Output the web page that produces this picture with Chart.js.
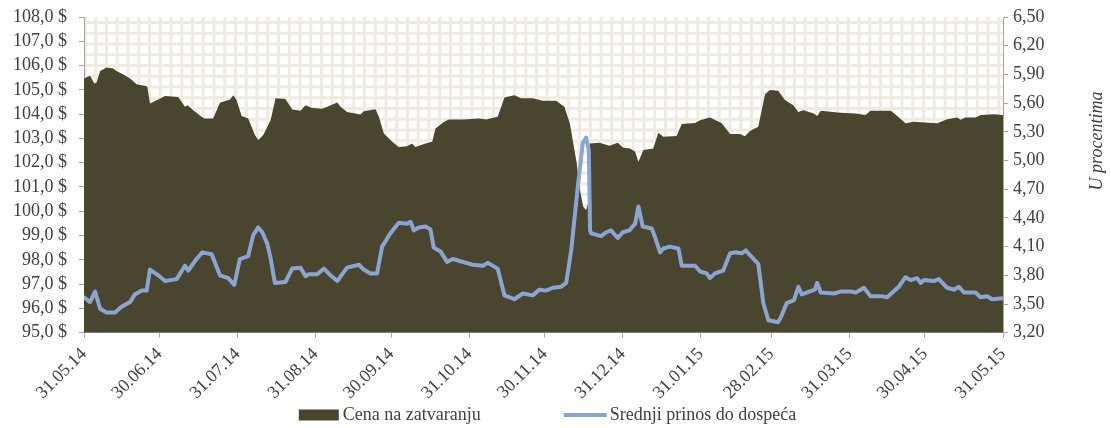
<!DOCTYPE html>
<html>
<head>
<meta charset="utf-8">
<script src="https://cdn.jsdelivr.net/npm/chart.js@4.4.1/dist/chart.umd.min.js"></script>
<style>
  body { margin: 0; background: #fff; }
  #wrap { width: 1111px; height: 428px; }
</style>
</head>
<body>
<div id="wrap"><canvas id="grafik" width="1111" height="428"></canvas></div>
<script>
// dani od 31.05.14
var cenaDani = [0, 2.4, 4.1, 5.0, 6.4, 9.0, 11.6, 12.9, 15.6, 18.3, 20.9, 24.9, 25.2, 26.2, 27.5, 32.2, 37.4, 40.1, 41.1, 43.4,
    46.7, 47.8, 51.3, 54.0, 58.0, 59.3, 60.6, 62.6, 65.2, 67.9, 69.2, 71.2, 74.1, 76.1, 80.0, 82.7, 86.0, 88.0, 90.6, 94.6,
    96.6, 100.6, 101.9, 104.5, 109.8, 111.1, 115.8, 117.1, 119.1, 122.4, 125.0, 128.3, 130.3, 131.6, 135.6, 138.3, 139.6, 142.9, 144.9, 150.5,
    157.0, 159.7, 164.3, 167.0, 170.9, 173.6, 178.2, 182.2, 187.5, 190.8, 193.0, 194.1, 195.7, 197.0, 198.3, 199.4, 200.5, 200.9, 204.7, 208.7,
    212.0, 214.0, 216.9, 218.9, 220.2, 222.2, 226.1, 228.1, 230.1, 235.4, 237.4, 242.7, 244.7, 248.6, 253.3, 256.6, 260.5, 262.5, 264.5, 267.8,
    270.5, 272.4, 275.7, 278.4, 281.7, 283.7, 285.7, 289.9, 291.2, 292.6, 300.5, 306.5, 310.4, 312.4, 320.4, 323.0, 326.3, 329.6, 334.1, 338.9,
    342.8, 346.8, 348.1, 350.1, 354.1, 356.1, 361.4, 365];
var cena = [105.47, 105.58, 105.26, 105.30, 105.78, 105.92, 105.88, 105.78, 105.63, 105.47, 105.23, 105.15, 105.10, 104.44, 104.50, 104.75, 104.71, 104.30, 104.37, 104.16,
    103.89, 103.82, 103.82, 104.47, 104.60, 104.78, 104.58, 103.92, 103.82, 103.14, 102.93, 103.14, 103.75, 104.65, 104.62, 104.19, 104.14, 104.37, 104.25, 104.22,
    104.30, 104.48, 104.30, 104.09, 103.99, 104.12, 104.20, 103.90, 103.20, 102.86, 102.65, 102.68, 102.79, 102.65, 102.79, 102.86, 103.41, 103.68, 103.78, 103.78,
    103.82, 103.78, 103.89, 104.69, 104.78, 104.65, 104.65, 104.55, 104.55, 104.30, 103.60, 102.93, 101.97, 100.87, 100.19, 100.05, 100.40, 102.79, 102.82, 102.70,
    102.82, 102.63, 102.59, 102.45, 102.04, 102.52, 102.59, 103.23, 103.07, 103.10, 103.59, 103.64, 103.75, 103.86, 103.62, 103.18, 103.18, 103.09, 103.31, 103.48,
    104.82, 104.99, 104.96, 104.58, 104.37, 104.09, 104.16, 104.03, 103.92, 104.14, 104.06, 104.03, 103.96, 104.14, 104.14, 103.92, 103.62, 103.69, 103.66, 103.62,
    103.79, 103.86, 103.77, 103.86, 103.86, 103.96, 104.00, 103.96];

var prinosDani = [0, 2.4, 4.4, 6.4, 9.0, 12.3, 14.9, 18.3, 20.2, 22.9, 24.9, 26.2, 29.5, 32.2, 36.8, 40.1, 41.4, 44.7, 47.0, 50.7,
    54.0, 57.3, 59.7, 61.9, 65.2, 67.2, 69.2, 70.8, 72.8, 74.1, 75.8, 80.0, 82.7, 86.0, 88.0, 89.3, 92.6, 95.3, 97.9, 100.6,
    102.5, 104.5, 109.2, 111.1, 113.8, 116.4, 118.4, 121.7, 125.0, 128.3, 129.7, 131.0, 133.0, 135.6, 137.6, 138.9, 141.6, 144.2, 146.5, 151.8,
    154.4, 158.4, 160.4, 164.3, 167.0, 170.9, 174.3, 178.2, 180.9, 183.5, 186.2, 189.5, 191.5, 193.5, 196.1, 198.1, 199.4, 200.5, 201.0, 201.4,
    205.4, 207.4, 209.3, 212.0, 214.0, 216.6, 218.9, 220.2, 221.9, 225.5, 226.8, 228.8, 230.1, 232.7, 236.1, 237.4, 242.7, 244.7, 247.3, 248.6,
    250.6, 253.9, 256.6, 258.5, 261.2, 262.9, 264.5, 267.8, 269.8, 271.8, 275.7, 277.1, 279.1, 282.0, 283.7, 285.1, 287.0, 290.3, 291.2, 292.6,
    297.9, 300.5, 304.5, 306.5, 309.8, 312.4, 317.0, 319.0, 323.6, 326.3, 328.3, 330.9, 332.3, 333.6, 337.5, 339.5, 342.8, 345.5, 347.5, 349.5,
    354.1, 356.1, 358.7, 360.7, 365];
var prinos = [3.57, 3.52, 3.63, 3.45, 3.41, 3.41, 3.47, 3.52, 3.60, 3.64, 3.64, 3.86, 3.80, 3.74, 3.76, 3.90, 3.85, 3.97, 4.04, 4.02,
    3.80, 3.77, 3.70, 3.97, 4.00, 4.22, 4.30, 4.25, 4.13, 3.98, 3.72, 3.73, 3.87, 3.88, 3.79, 3.81, 3.81, 3.87, 3.80, 3.74,
    3.81, 3.88, 3.91, 3.86, 3.82, 3.82, 4.10, 4.24, 4.35, 4.34, 4.36, 4.27, 4.30, 4.31, 4.28, 4.09, 4.05, 3.94, 3.97, 3.93,
    3.91, 3.90, 3.93, 3.87, 3.59, 3.55, 3.61, 3.59, 3.65, 3.64, 3.67, 3.68, 3.72, 4.06, 4.72, 5.18, 5.24, 5.11, 4.27, 4.24,
    4.21, 4.25, 4.27, 4.19, 4.25, 4.27, 4.34, 4.52, 4.31, 4.29, 4.20, 4.04, 4.08, 4.10, 4.08, 3.90, 3.90, 3.84, 3.82, 3.77,
    3.82, 3.85, 4.03, 4.04, 4.03, 4.06, 4.01, 3.92, 3.51, 3.33, 3.31, 3.38, 3.51, 3.54, 3.68, 3.60, 3.62, 3.65, 3.72, 3.62,
    3.61, 3.63, 3.63, 3.62, 3.67, 3.58, 3.58, 3.57, 3.68, 3.78, 3.75, 3.77, 3.72, 3.75, 3.74, 3.76, 3.67, 3.65, 3.68, 3.62,
    3.62, 3.57, 3.58, 3.55, 3.56];

var datumDani = [0, 30, 61, 92, 122, 153, 183, 214, 245, 273, 304, 334, 365];
var datumi = ['31.05.14', '30.06.14', '31.07.14', '31.08.14', '30.09.14', '31.10.14', '30.11.14',
    '31.12.14', '31.01.15', '28.02.15', '31.03.15', '30.04.15', '31.05.15'];
var cenaTicks = [95, 96, 97, 98, 99, 100, 101, 102, 103, 104, 105, 106, 107, 108];
var prinosTicks = [3.2, 3.5, 3.8, 4.1, 4.4, 4.7, 5.0, 5.3, 5.6, 5.9, 6.2, 6.5];

var nazivi = ['Cena na zatvaranju', 'Srednji prinos do dospeća'];
var osaDesno = 'U procentima';

var bojaCena = '#4a452e';
var bojaPrinos = '#8aa5d2';
var bojaTeksta = '#404040';
var bojaOse = '#a6a6a6';
var font = "'Liberation Serif', 'Times New Roman', serif";

Chart.defaults.font.family = font;
Chart.defaults.font.size = 18;
Chart.defaults.color = bojaTeksta;

// pozadina sa mrezom (kao excel sablon)
var pozadina = {
    id: 'pozadina',
    beforeDraw: function(chart) {
        var ctx = chart.ctx, a = chart.chartArea;
        ctx.save();
        ctx.fillStyle = '#fff';
        ctx.fillRect(0, 0, chart.width, chart.height);
        ctx.beginPath();
        ctx.rect(a.left, a.top, a.right - a.left, a.bottom - a.top);
        ctx.clip();
        ctx.strokeStyle = '#efebe0';
        ctx.lineWidth = 3;
        var korak = 10.75;
        ctx.beginPath();
        for (var x = a.left + 1; x < a.right; x += korak) {
            ctx.moveTo(x, a.top);
            ctx.lineTo(x, a.bottom);
        }
        for (var y = a.top + 5.5; y < a.bottom; y += korak) {
            ctx.moveTo(a.left, y);
            ctx.lineTo(a.right, y);
        }
        ctx.stroke();
        ctx.restore();
    },
    afterDraw: function(chart) {
        var ctx = chart.ctx;
        ctx.save();
        // naslov desne ose
        ctx.font = 'italic 18px ' + font;
        ctx.fillStyle = bojaTeksta;
        ctx.textAlign = 'center';
        ctx.textBaseline = 'middle';
        ctx.translate(1097, 141);
        ctx.rotate(-Math.PI / 2);
        ctx.fillText(osaDesno, 0, 0);
        ctx.restore();

        // legenda
        ctx.save();
        ctx.font = '18px ' + font;
        ctx.textBaseline = 'middle';
        var t1 = ctx.measureText(nazivi[0]).width;
        var t2 = ctx.measureText(nazivi[1]).width;
        var w1 = 40 + 4 + t1, w2 = 43 + 3 + t2, razmak = 83;
        var x0 = 547.5 - (w1 + razmak + w2) / 2;
        var yL = 415;
        ctx.fillStyle = bojaCena;
        ctx.fillRect(x0, yL - 5.5, 40, 11);
        ctx.fillStyle = bojaTeksta;
        ctx.fillText(nazivi[0], x0 + 44, yL);
        var x1 = x0 + w1 + razmak;
        ctx.strokeStyle = bojaPrinos;
        ctx.lineWidth = 4;
        ctx.beginPath();
        ctx.moveTo(x1, yL);
        ctx.lineTo(x1 + 43, yL);
        ctx.stroke();
        ctx.fillText(nazivi[1], x1 + 46, yL);
        ctx.restore();
    }
};

function bezPadinga(scale) {
    scale.paddingTop = 0;
    scale.paddingBottom = 0;
}

document.addEventListener('DOMContentLoaded', function(event) {
    var context = document.getElementById('grafik').getContext('2d');
    new Chart(context, {
        type: 'line',
        data: {
            datasets: [
                {
                    label: nazivi[0],
                    data: cenaDani.map(function(d, i) { return {x: d, y: cena[i]}; }),
                    yAxisID: 'y',
                    backgroundColor: bojaCena,
                    borderWidth: 0,
                    pointRadius: 0,
                    fill: 'start',
                    lineTension: 0,
                    order: 2
                },
                {
                    label: nazivi[1],
                    data: prinosDani.map(function(d, i) { return {x: d, y: prinos[i]}; }),
                    yAxisID: 'y1',
                    borderColor: bojaPrinos,
                    borderWidth: 4,
                    borderJoinStyle: 'round',
                    borderCapStyle: 'round',
                    pointRadius: 0,
                    fill: false,
                    lineTension: 0,
                    order: 1
                }
            ]
        },
        options: {
            responsive: false,
            animation: false,
            layout: { padding: { top: 17, left: 0, right: 0, bottom: 0 } },
            plugins: {
                legend: { display: false },
                tooltip: { enabled: false },
                title: { display: false }
            },
            scales: {
                x: {
                    type: 'linear',
                    min: 0,
                    max: 365,
                    afterBuildTicks: function(scale) {
                        scale.ticks = datumDani.map(function(v) { return {value: v}; });
                    },
                    afterFit: function(scale) { scale.height = 95.3; },
                    ticks: {
                        autoSkip: false,
                        maxRotation: 45,
                        minRotation: 45,
                        padding: 6,
                        callback: function(v, i) { return datumi[i]; }
                    },
                    grid: { drawOnChartArea: false, color: bojaOse, tickLength: 5 },
                    border: { color: bojaOse, width: 1 }
                },
                y: {
                    position: 'left',
                    min: 95,
                    max: 108,
                    afterBuildTicks: function(scale) {
                        scale.ticks = cenaTicks.map(function(v) { return {value: v}; });
                    },
                    afterFit: function(scale) { scale.width = 84; bezPadinga(scale); },
                    ticks: {
                        autoSkip: false,
                        padding: 12,
                        callback: function(v) { return v.toFixed(1).replace('.', ',') + ' $'; }
                    },
                    grid: { drawOnChartArea: false, color: bojaOse, tickLength: 5 },
                    border: { color: bojaOse, width: 1 }
                },
                y1: {
                    position: 'right',
                    min: 3.2,
                    max: 6.5,
                    afterBuildTicks: function(scale) {
                        scale.ticks = prinosTicks.map(function(v) { return {value: v}; });
                    },
                    afterFit: function(scale) { scale.width = 108; bezPadinga(scale); },
                    ticks: {
                        autoSkip: false,
                        padding: 5,
                        callback: function(v) { return v.toFixed(2).replace('.', ','); }
                    },
                    grid: { drawOnChartArea: false, color: bojaOse, tickLength: 5 },
                    border: { color: bojaOse, width: 1 }
                }
            }
        },
        plugins: [pozadina]
    });
});
</script>
</body>
</html>
